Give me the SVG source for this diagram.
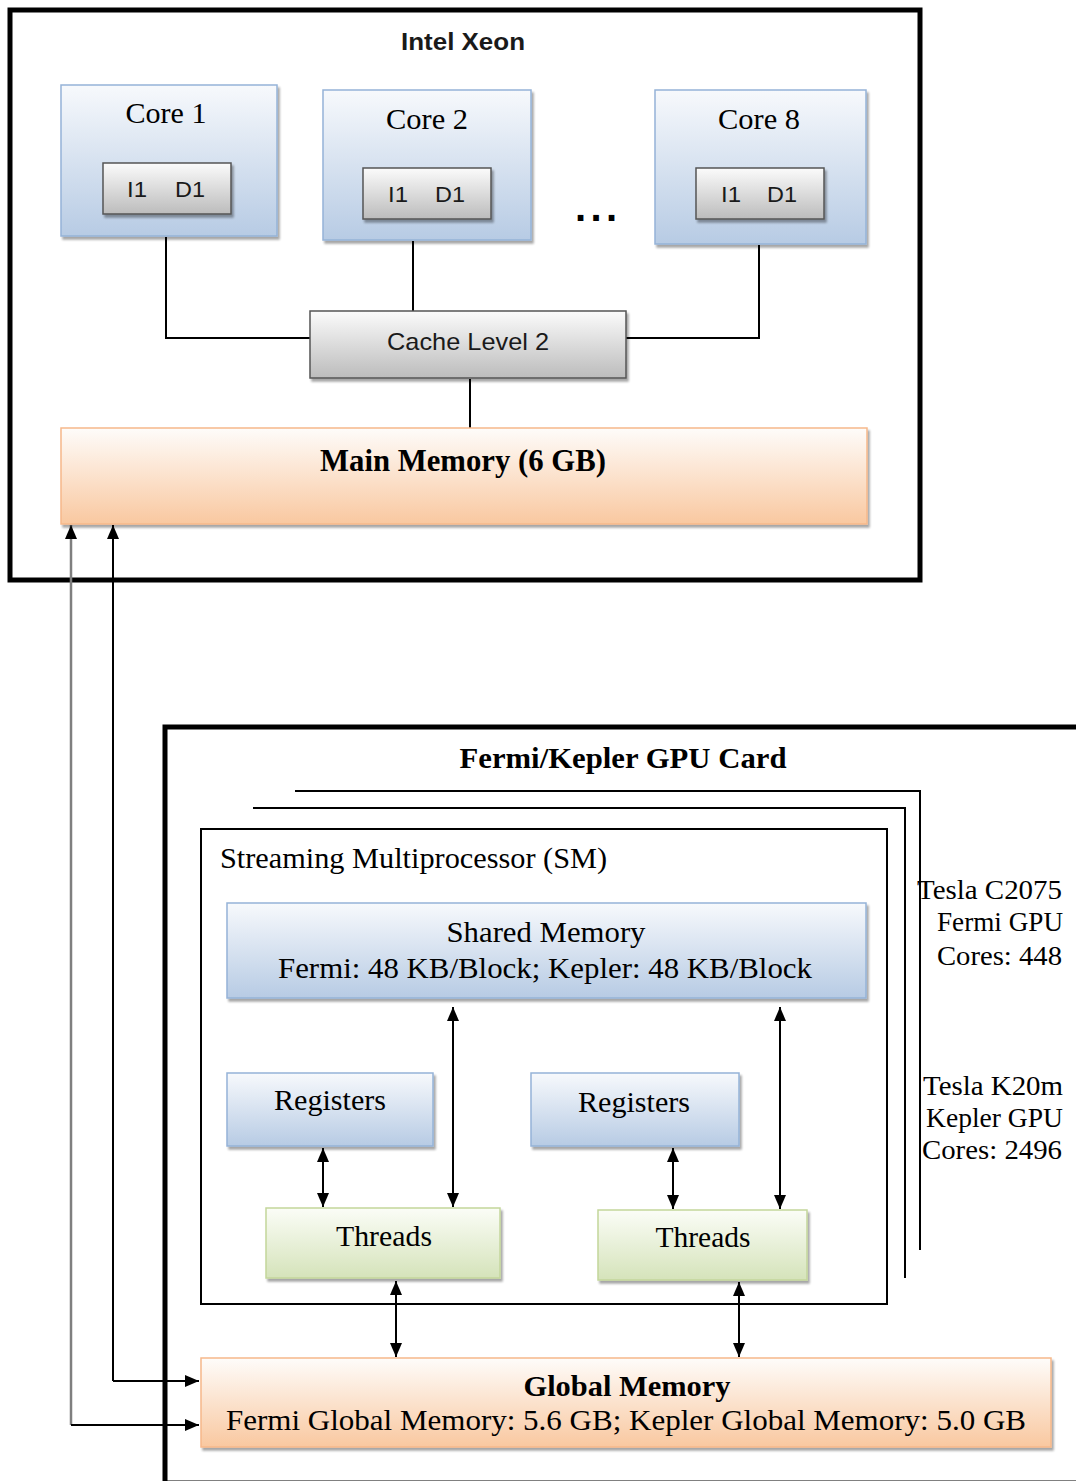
<svg xmlns="http://www.w3.org/2000/svg" width="1076" height="1481" viewBox="0 0 1076 1481">
<defs>
<linearGradient id="gBlue" x1="0" y1="0" x2="0" y2="1"><stop offset="0" stop-color="#f7f9fc"/><stop offset="1" stop-color="#b7cbe4"/></linearGradient>
<linearGradient id="gGray" x1="0" y1="0" x2="0" y2="1"><stop offset="0" stop-color="#fbfbfb"/><stop offset="1" stop-color="#bcbcbc"/></linearGradient>
<linearGradient id="gOrange" x1="0" y1="0" x2="0" y2="1"><stop offset="0" stop-color="#fefcfa"/><stop offset="1" stop-color="#f9c8a0"/></linearGradient>
<linearGradient id="gGreen" x1="0" y1="0" x2="0" y2="1"><stop offset="0" stop-color="#fbfdf7"/><stop offset="1" stop-color="#d5e3ba"/></linearGradient>
<filter id="sh" x="-5%" y="-5%" width="115%" height="125%"><feDropShadow dx="2" dy="3" stdDeviation="1.2" flood-color="#000" flood-opacity="0.35"/></filter>
<marker id="ah2" viewBox="0 0 14 12" refX="14" refY="6" markerWidth="14" markerHeight="12" markerUnits="userSpaceOnUse" orient="auto-start-reverse"><path d="M0,0 L14,6 L0,12 z" fill="#000"/></marker>
</defs>
<style>
.serif{font-family:"Liberation Serif","Times New Roman",serif;fill:#000}
.sans{font-family:"Liberation Sans",Arial,sans-serif;fill:#1a1a1a}
.b{font-weight:bold}
.blue{fill:url(#gBlue);stroke:#95b3d7;stroke-width:1.5}
.gray{fill:url(#gGray);stroke:#555;stroke-width:1.5}
.orange{fill:url(#gOrange);stroke:#f6b88a;stroke-width:1.5}
.green{fill:url(#gGreen);stroke:#c3d69b;stroke-width:1.5}
.ln{fill:none;stroke:#000;stroke-width:2}
.frame{fill:none;stroke:#000;stroke-width:2}
</style>
<rect width="1076" height="1481" fill="#fff"/>

<g id="intel-xeon">
<rect x="10" y="10" width="910" height="570" fill="none" stroke="#000" stroke-width="5"/>
<text class="sans b" x="463" y="50" font-size="24" text-anchor="middle" textLength="124" lengthAdjust="spacingAndGlyphs">Intel Xeon</text>
</g>

<g id="gpu-card">
<rect x="165" y="727" width="1000" height="756" fill="none" stroke="#000" stroke-width="5"/>
<text class="serif b" x="623" y="768" font-size="30" text-anchor="middle" textLength="327" lengthAdjust="spacingAndGlyphs">Fermi/Kepler GPU Card</text>
</g>

<g id="gpu-stack">
<path class="frame" d="M295,791 H920 V1250"/>
<path class="frame" d="M253,808 H905 V1278"/>
<text class="serif" x="1062" y="899" font-size="27" text-anchor="end" textLength="145" lengthAdjust="spacingAndGlyphs">Tesla C2075</text>
<text class="serif" x="1063" y="931" font-size="27" text-anchor="end" textLength="126" lengthAdjust="spacingAndGlyphs">Fermi GPU</text>
<text class="serif" x="1062" y="965" font-size="27" text-anchor="end" textLength="125" lengthAdjust="spacingAndGlyphs">Cores: 448</text>
<text class="serif" x="1063" y="1095" font-size="27" text-anchor="end" textLength="140" lengthAdjust="spacingAndGlyphs">Tesla K20m</text>
<text class="serif" x="1063" y="1127" font-size="27" text-anchor="end" textLength="137" lengthAdjust="spacingAndGlyphs">Kepler GPU</text>
<text class="serif" x="1062" y="1159" font-size="27" text-anchor="end" textLength="140" lengthAdjust="spacingAndGlyphs">Cores: 2496</text>
</g>

<g id="sm">
<rect x="201" y="829" width="686" height="475" fill="none" stroke="#000" stroke-width="2"/>
<text class="serif" x="220" y="868" font-size="29" textLength="387" lengthAdjust="spacingAndGlyphs">Streaming Multiprocessor (SM)</text>
</g>

<g id="connectors">
<path class="ln" d="M166,237 V338 H310"/>
<path class="ln" d="M413,241 V311"/>
<path class="ln" d="M759,245 V338 H626"/>
<path class="ln" d="M470,379 V428"/>
<path d="M71,1425 V525" fill="none" stroke="#7f7f7f" stroke-width="2.5" marker-end="url(#ah2)"/>
<path d="M71,1425 H199" fill="none" stroke="#000" stroke-width="2" marker-end="url(#ah2)"/>
<path d="M113,1381 V525" fill="none" stroke="#000" stroke-width="2" marker-end="url(#ah2)"/>
<path d="M113,1381 H199" fill="none" stroke="#000" stroke-width="2" marker-end="url(#ah2)"/>
<path class="ln" d="M323,1148 V1207" marker-start="url(#ah2)" marker-end="url(#ah2)"/>
<path class="ln" d="M453,1007 V1207" marker-start="url(#ah2)" marker-end="url(#ah2)"/>
<path class="ln" d="M673,1148 V1209" marker-start="url(#ah2)" marker-end="url(#ah2)"/>
<path class="ln" d="M780,1007 V1209" marker-start="url(#ah2)" marker-end="url(#ah2)"/>
<path class="ln" d="M396,1281 V1357" marker-start="url(#ah2)" marker-end="url(#ah2)"/>
<path class="ln" d="M739,1282 V1357" marker-start="url(#ah2)" marker-end="url(#ah2)"/>
</g>

<g id="core1">
<rect class="blue" x="61" y="85" width="216" height="151" filter="url(#sh)"/>
<text class="serif" x="166" y="123" font-size="29" text-anchor="middle" textLength="81" lengthAdjust="spacingAndGlyphs">Core 1</text>
<rect class="gray" x="103" y="163" width="128" height="51" filter="url(#sh)"/>
<text class="sans" x="137" y="197" font-size="22" text-anchor="middle" textLength="20" lengthAdjust="spacingAndGlyphs">I1</text>
<text class="sans" x="190" y="197" font-size="22" text-anchor="middle" textLength="30" lengthAdjust="spacingAndGlyphs">D1</text>
</g>
<g id="core2">
<rect class="blue" x="323" y="90" width="208" height="150" filter="url(#sh)"/>
<text class="serif" x="427" y="129" font-size="29" text-anchor="middle" textLength="82" lengthAdjust="spacingAndGlyphs">Core 2</text>
<rect class="gray" x="363" y="168" width="128" height="51" filter="url(#sh)"/>
<text class="sans" x="398" y="202" font-size="22" text-anchor="middle" textLength="20" lengthAdjust="spacingAndGlyphs">I1</text>
<text class="sans" x="450" y="202" font-size="22" text-anchor="middle" textLength="30" lengthAdjust="spacingAndGlyphs">D1</text>
</g>
<g id="ellipsis">
<text class="sans b" x="596" y="221" font-size="40" text-anchor="middle" textLength="42" lengthAdjust="spacing" style="fill:#000">...</text>
</g>
<g id="core8">
<rect class="blue" x="655" y="90" width="211" height="154" filter="url(#sh)"/>
<text class="serif" x="759" y="129" font-size="29" text-anchor="middle" textLength="82" lengthAdjust="spacingAndGlyphs">Core 8</text>
<rect class="gray" x="696" y="168" width="128" height="51" filter="url(#sh)"/>
<text class="sans" x="731" y="202" font-size="22" text-anchor="middle" textLength="20" lengthAdjust="spacingAndGlyphs">I1</text>
<text class="sans" x="782" y="202" font-size="22" text-anchor="middle" textLength="30" lengthAdjust="spacingAndGlyphs">D1</text>
</g>

<g id="cache-l2">
<rect class="gray" x="310" y="311" width="316" height="67" filter="url(#sh)"/>
<text class="sans" x="468" y="350" font-size="24" text-anchor="middle" textLength="162" lengthAdjust="spacingAndGlyphs">Cache Level 2</text>
</g>

<g id="main-memory">
<rect class="orange" x="61" y="428" width="806" height="96" filter="url(#sh)"/>
<text class="serif b" x="463" y="471" font-size="31" text-anchor="middle" textLength="286" lengthAdjust="spacingAndGlyphs">Main Memory (6 GB)</text>
</g>

<g id="shared-memory">
<rect class="blue" x="227" y="903" width="639" height="95" filter="url(#sh)"/>
<text class="serif" x="546" y="942" font-size="29" text-anchor="middle" textLength="199" lengthAdjust="spacingAndGlyphs">Shared Memory</text>
<text class="serif" x="545" y="978" font-size="29" text-anchor="middle" textLength="534" lengthAdjust="spacingAndGlyphs">Fermi: 48 KB/Block; Kepler: 48 KB/Block</text>
</g>

<g id="registers-1">
<rect class="blue" x="227" y="1073" width="206" height="73" filter="url(#sh)"/>
<text class="serif" x="330" y="1110" font-size="29" text-anchor="middle" textLength="112" lengthAdjust="spacingAndGlyphs">Registers</text>
</g>
<g id="registers-2">
<rect class="blue" x="531" y="1073" width="208" height="73" filter="url(#sh)"/>
<text class="serif" x="634" y="1112" font-size="29" text-anchor="middle" textLength="112" lengthAdjust="spacingAndGlyphs">Registers</text>
</g>
<g id="threads-1">
<rect class="green" x="266" y="1208" width="234" height="70" filter="url(#sh)"/>
<text class="serif" x="384" y="1246" font-size="29" text-anchor="middle" textLength="96" lengthAdjust="spacingAndGlyphs">Threads</text>
</g>
<g id="threads-2">
<rect class="green" x="598" y="1210" width="209" height="70" filter="url(#sh)"/>
<text class="serif" x="703" y="1247" font-size="29" text-anchor="middle" textLength="95" lengthAdjust="spacingAndGlyphs">Threads</text>
</g>

<g id="global-memory">
<rect class="orange" x="201" y="1358" width="850" height="89" filter="url(#sh)"/>
<text class="serif b" x="627" y="1396" font-size="30" text-anchor="middle" textLength="207" lengthAdjust="spacingAndGlyphs">Global Memory</text>
<text class="serif" x="626" y="1430" font-size="29" text-anchor="middle" textLength="800" lengthAdjust="spacingAndGlyphs">Fermi Global Memory: 5.6 GB; Kepler Global Memory: 5.0 GB</text>
</g>
</svg>
